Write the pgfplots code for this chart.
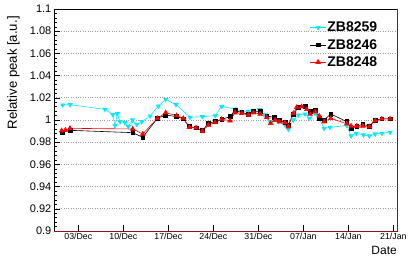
\documentclass[border=0pt]{standalone}
\usepackage{pgfplots}
\pgfplotsset{compat=1.18}
\usepackage{pgfplotstable}
\usepackage{fontspec}
\setmainfont{Liberation Sans}
\definecolor{frameRed}{RGB}{140,20,20}
\definecolor{rootCyan}{RGB}{0,235,255}

\pgfplotstableread{
x y
0.57 1.0135
1.71 1.0138
7.15 1.0096
8.35 1.0048
8.71 0.9950
9.07 1.0057
9.49 0.9985
10.26 0.9976
10.78 0.9940
11.40 1.0000
12.08 0.9960
12.86 0.9985
14.15 1.0036
15.44 1.0126
16.59 1.0186
18.19 1.0138
20.37 1.0024
22.28 1.0030
24.30 1.0040
25.30 1.0123
27.37 1.0099
28.41 1.0078
29.44 1.0078
30.22 1.0087
31.15 1.0093
31.88 1.0048
32.81 0.9985
34.10 0.9985
35.14 0.9955
35.66 0.9916
36.44 1.0000
37.21 1.0045
38.26 1.0054
38.93 1.0015
39.81 1.0060
40.33 1.0030
41.22 0.9925
42.15 0.9934
44.75 0.9950
45.42 0.9856
46.21 0.9880
47.34 0.9865
48.27 0.9856
49.16 0.9874
50.20 0.9880
51.49 0.9889
}\cyandata

\pgfplotstableread{
x y
0.57 0.9890
1.71 0.9907
11.46 0.9886
13.02 0.9844
15.29 1.0015
16.59 1.0045
18.30 1.0030
19.33 1.0010
20.26 0.9940
21.30 0.9930
22.28 0.9904
23.22 0.9970
24.26 0.9985
25.30 1.0006
26.59 1.0030
27.37 1.0090
28.41 1.0066
29.44 1.0054
30.22 1.0075
31.26 1.0075
32.30 1.0036
33.43 1.0024
34.26 1.0000
35.14 0.9976
35.66 0.9955
36.44 1.0054
37.21 1.0114
38.26 1.0126
39.03 1.0075
39.81 1.0084
40.48 1.0015
41.22 1.0000
42.26 1.0054
44.75 0.9985
45.42 0.9925
46.31 0.9946
47.24 0.9961
48.27 0.9946
49.16 1.0000
50.20 1.0010
51.49 1.0010
}\blackdata

\pgfplotstableread{
x y
0.40 0.9904
1.00 0.9910
1.71 0.9925
11.46 0.9919
13.02 0.9874
15.29 1.0015
16.59 1.0066
18.30 1.0040
19.33 1.0015
20.26 0.9935
21.30 0.9930
22.28 0.9900
23.22 0.9955
24.26 0.9978
25.30 1.0006
26.59 0.9994
27.37 1.0066
28.41 1.0060
29.44 1.0045
30.22 1.0066
31.26 1.0054
32.30 1.0024
32.90 0.9970
33.60 1.0000
34.26 0.9985
35.14 0.9976
35.66 0.9940
36.44 1.0060
36.95 1.0114
37.72 1.0120
38.52 1.0096
39.03 1.0054
39.81 1.0075
40.48 1.0036
41.22 0.9985
42.26 1.0015
44.75 0.9966
45.42 0.9946
46.31 0.9946
47.24 0.9946
48.27 0.9940
49.16 0.9994
50.20 1.0010
51.49 1.0010
}\reddata

\begin{document}
\begin{tikzpicture}[x=1pt,y=1pt]
\path[use as bounding box] (0,0) rectangle (415,262);
\begin{axis}[
  at={(54pt,31pt)}, anchor=south west,
  scale only axis, width=343pt, height=222pt,
  xmin=-0.78, xmax=52.56, ymin=0.9, ymax=1.1,
  xtick={3,10,17,24,31,38,45,52},
  xticklabels={03/Dec,10/Dec,17/Dec,24/Dec,31/Dec,07/Jan,14/Jan,21/Jan},
  ytick={0.9,0.92,0.94,0.96,0.98,1,1.02,1.04,1.06,1.08,1.1},
  yticklabels={0.9,0.92,0.94,0.96,0.98,1,1.02,1.04,1.06,1.08,1.1},
  minor y tick num=4,
  xtick pos=bottom, ytick pos=left, tick align=inside,
  major tick length=5.5pt, minor tick length=3pt,
  tick style={black, line width=0.5pt},
  ymajorgrids, major grid style={dotted, gray!75, line width=0.6pt},
  axis line style={black, line width=0.5pt},
  xticklabel style={font=\fontsize{8.8}{10}\selectfont, inner sep=1pt, yshift=-1pt},
  yticklabel style={font=\fontsize{11}{12}\selectfont, inner sep=1pt, xshift=-1.5pt},
  /pgf/number format/assume math mode=true,
  xlabel={Date},
  xlabel style={at={(axis description cs:1,-0.068)}, anchor=north east, font=\fontsize{12}{13}\selectfont, inner sep=0pt},
  ylabel={Relative peak [a.u.]},
  ylabel style={at={(axis description cs:-0.100,0.968)}, anchor=south east, font=\fontsize{13.2}{14}\selectfont, inner sep=0pt},
  legend style={draw=none, fill=none, at={(axis description cs:0.745,0.947)}, anchor=north west,
    font=\bfseries\fontsize{14}{15}\selectfont, row sep=4pt, inner sep=0pt,
    nodes={inner sep=1pt}},
  legend cell align=left,
  legend image code/.code={\draw[mark repeat=2, mark phase=2] plot coordinates {(0pt,0pt) (8pt,0pt) (16pt,0pt)};},
  after end axis/.code={\draw[frameRed, line width=0.8pt] (rel axis cs:0,0) -- (rel axis cs:1,0) -- (rel axis cs:1,1);},
]
\addplot[rootCyan, line width=0.6pt, mark=triangle*, mark size=2.4pt, mark options={rotate=180, fill=rootCyan, draw=rootCyan}] table[x=x,y=y] {\cyandata};
\addlegendentry{ZB8259}
\addplot[black, line width=0.6pt, mark=square*, mark size=1.9pt, mark options={fill=black}] table[x=x,y=y] {\blackdata};
\addlegendentry{ZB8246}
\addplot[red, line width=0.6pt, mark=triangle*, mark size=2.6pt, mark options={fill=red}] table[x=x,y=y] {\reddata};
\addlegendentry{ZB8248}
\end{axis}
\end{tikzpicture}
\end{document}
